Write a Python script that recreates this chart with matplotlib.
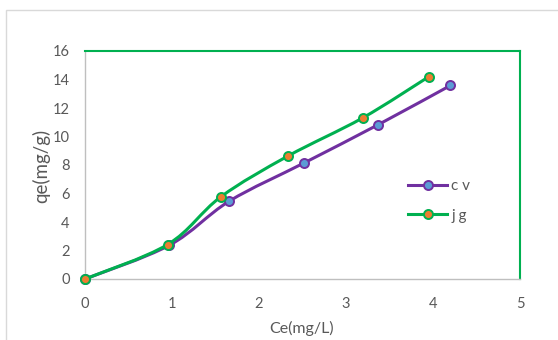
import matplotlib
matplotlib.use("Agg")
import matplotlib.pyplot as plt
import numpy as np
from matplotlib.path import Path
from matplotlib.patches import PathPatch, Rectangle
from matplotlib.lines import Line2D

plt.rcParams['font.family'] = ['Lato', 'DejaVu Sans']

# Equilibrium data for the two adsorbents
cv_ce = [0.0, 0.97, 1.66, 2.52, 3.37, 4.20]
cv_qe = [0.0, 2.37, 5.47, 8.15, 10.83, 13.58]
jg_ce = [0.0, 0.95, 1.56, 2.33, 3.19, 3.95]
jg_qe = [0.0, 2.42, 5.76, 8.62, 11.30, 14.19]
series_names = ["c v", "j g"]
x_ticks = [0, 1, 2, 3, 4, 5]
y_ticks = [0, 2, 4, 6, 8, 10, 12, 14, 16]

TEXT = "#595959"
PURPLE = "#7030A0"
BLUE = "#5B9BD5"
GREEN = "#00B050"
ORANGE = "#ED7D31"
W, H = 558, 340


def smooth_path(xs, ys):
    """Cubic Bezier path through the points (Catmull-Rom style smoothing)."""
    p = np.column_stack([xs, ys]).astype(float)
    n = len(p)
    verts = [p[0]]
    codes = [Path.MOVETO]
    for i in range(n - 1):
        p0 = p[i - 1] if i > 0 else p[i]
        p1 = p[i]
        p2 = p[i + 1]
        p3 = p[i + 2] if i + 2 < n else p[i + 1]
        c1 = p1 + (p2 - p0) / 6.0
        c2 = p2 - (p3 - p1) / 6.0
        verts += [c1, c2, p2]
        codes += [Path.CURVE4] * 3
    return Path(verts, codes)


fig = plt.figure(figsize=(W / 100, H / 100), dpi=100)
fig.patch.set_facecolor("white")
# chart-area frame
fig.patches.append(Rectangle((6 / W, -0.1), 1.2, 1 - 10 / H + 0.1,
                             transform=fig.transFigure, fill=False,
                             edgecolor="#D9D9D9", linewidth=1.0))

ax = fig.add_axes([85 / W, 1 - 279 / H, 435 / W, 228 / H])
ax.set_xlim(0, 5)
ax.set_ylim(0, 16)
ax.set_xticks(x_ticks)
ax.set_yticks(y_ticks)
ax.tick_params(length=0, labelsize=10.5, labelcolor=TEXT)
ax.tick_params(axis='x', pad=13)
ax.tick_params(axis='y', pad=11)

for side in ("left", "bottom"):
    ax.spines[side].set_color("#BFBFBF")
    ax.spines[side].set_linewidth(1.0)
for side in ("top", "right"):
    ax.spines[side].set_color(GREEN)
    ax.spines[side].set_linewidth(1.5)

styles = [(cv_ce, cv_qe, PURPLE, BLUE), (jg_ce, jg_qe, GREEN, ORANGE)]
for k, (xs, ys, lc, mc) in enumerate(styles):
    ax.add_patch(PathPatch(smooth_path(xs, ys), fill=False, edgecolor=lc,
                           linewidth=2.2, capstyle='round', joinstyle='round',
                           zorder=3 + 2 * k, clip_on=False))
    ax.plot(xs, ys, linestyle='none', marker='o', markersize=6.5,
            markerfacecolor=mc, markeredgecolor=lc, markeredgewidth=1.4,
            zorder=4 + 2 * k, clip_on=False)

fig.text(302 / W, 1 - 328 / H, "Ce(mg/L)", fontsize=11.5, color=TEXT,
         ha='center', va='center')
fig.text(41 / W, 1 - 166 / H, "qe(mg/g)", fontsize=13.5, color=TEXT,
         ha='center', va='center', rotation=90)

handles = [Line2D([], [], color=lc, linewidth=2.2, marker='o', markersize=6.5,
                  markerfacecolor=mc, markeredgecolor=lc, markeredgewidth=1.4)
           for (_, _, lc, mc) in styles]
leg = ax.legend(handles, series_names, loc='center left',
                bbox_to_anchor=(394 / W, 1 - 201 / H),
                bbox_transform=fig.transFigure, frameon=False,
                fontsize=11, labelcolor=TEXT, handlelength=2.6,
                handletextpad=0.25, labelspacing=1.0)

fig.savefig("out.png", dpi=100, facecolor="white")
